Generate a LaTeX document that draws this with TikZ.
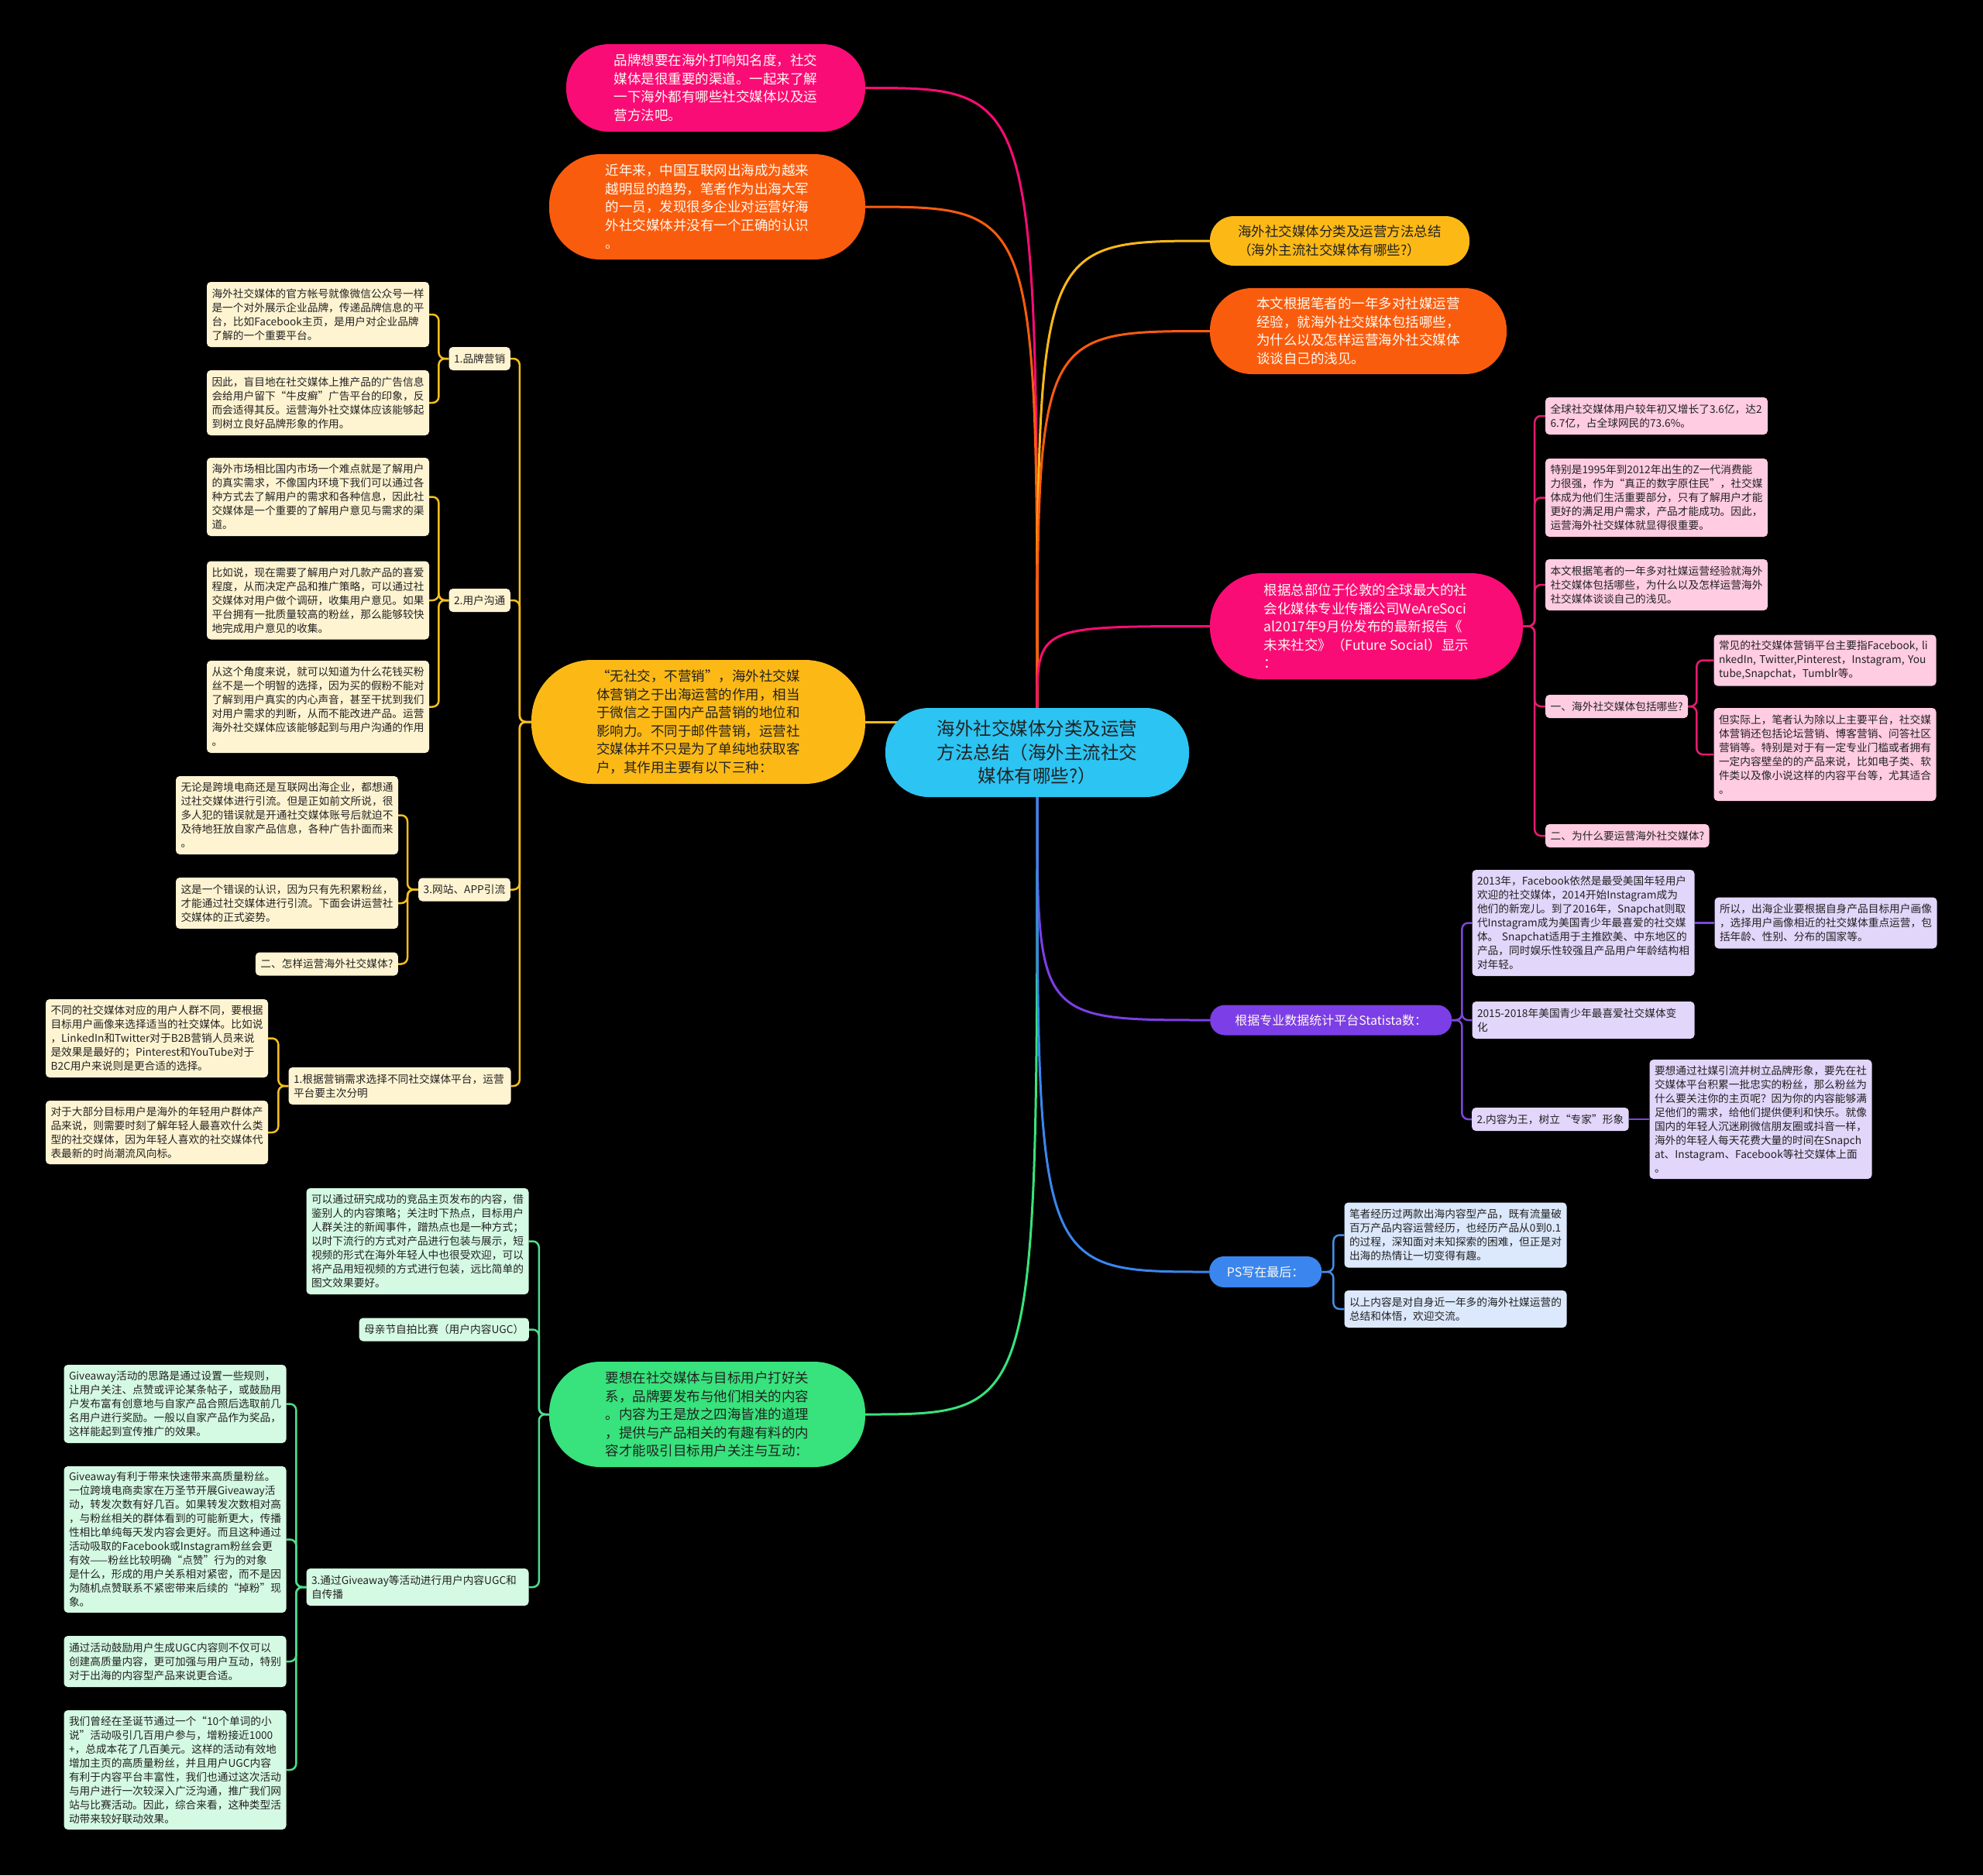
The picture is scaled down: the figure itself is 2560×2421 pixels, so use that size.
\documentclass[tikz,border=0pt]{standalone}
\usepackage{fontspec}
\setmainfont{Noto Sans CJK SC}
\usetikzlibrary{calc}
\hyphenpenalty=10000
\exhyphenpenalty=10000
\definecolor{cyanC}{RGB}{44,196,242}
\definecolor{pinkM}{RGB}{250,12,118}
\definecolor{orangeM}{RGB}{250,92,14}
\definecolor{yellowM}{RGB}{252,185,22}
\definecolor{greenM}{RGB}{56,226,124}
\definecolor{purpleM}{RGB}{124,62,230}
\definecolor{blueM}{RGB}{58,134,238}
\definecolor{creamL}{RGB}{255,244,210}
\definecolor{pinkL}{RGB}{255,204,226}
\definecolor{lavL}{RGB}{226,214,250}
\definecolor{blueL}{RGB}{220,232,252}
\definecolor{mintL}{RGB}{213,250,228}
\definecolor{goldLine}{RGB}{245,190,30}
\definecolor{pinkLine}{RGB}{228,28,110}
\definecolor{purpleLine}{RGB}{124,70,220}
\definecolor{blueLine}{RGB}{70,140,230}
\definecolor{greenLine}{RGB}{80,220,140}
\definecolor{txtdark}{RGB}{34,34,34}
\definecolor{txtlight}{RGB}{255,250,240}
\newcommand\fsleaf{\fontsize{13.7pt}{18pt}\selectfont}
\newcommand\fsbranch{\fontsize{17.5pt}{23.5pt}\selectfont}
\newcommand\fscenter{\fontsize{23.5pt}{30.5pt}\selectfont}
\newcommand\fssmall{\fontsize{16pt}{20pt}\selectfont}
\pgfdeclarelayer{canvas}
\pgfdeclarelayer{links}
\pgfsetlayers{canvas,links,main}
\begin{document}
\begin{tikzpicture}[x=1pt,y=-1pt,
  leaf/.style={rounded corners=5pt, inner xsep=6.5pt, inner ysep=0pt, text width=274pt, align=left, font=\fsleaf, text=txtdark},
  tag/.style={rounded corners=5pt, inner xsep=6.5pt, inner ysep=0pt, minimum height=30pt, font=\fsleaf, text=txtdark},
  branch/.style={inner sep=0pt, align=left, font=\fsbranch},
  trunk/.style={line width=3pt},
  twig/.style={line width=2.5pt, rounded corners=8pt}
]
\useasboundingbox (0,0) rectangle (2560,2421);
\begin{pgfonlayer}{canvas}
\fill[black] (0,0) rectangle (2560,2421);
\end{pgfonlayer}

% ---------- main nodes ----------
\node[inner sep=0pt, align=center, font=\fscenter, fill=cyanC, text=txtdark, minimum width=392pt, minimum height=115pt, rounded corners=56pt] (c) at (1339,971.5) {海外社交媒体分类及运营\\方法总结（海外主流社交\\媒体有哪些?）};

\node[branch, fill=pinkM, text=txtlight, minimum width=386pt, minimum height=113pt, rounded corners=55pt] (lp) at (924,113.5) {品牌想要在海外打响知名度，社交\\媒体是很重要的渠道。一起来了解\\一下海外都有哪些社交媒体以及运\\营方法吧。};
\node[branch, fill=orangeM, text=txtlight, minimum width=408pt, minimum height=136pt, rounded corners=66pt] (lo) at (913,267) {近年来，中国互联网出海成为越来\\越明显的趋势，笔者作为出海大军\\的一员，发现很多企业对运营好海\\外社交媒体并没有一个正确的认识\\。};
\node[branch, fill=yellowM, text=txtdark, minimum width=431pt, minimum height=160pt, rounded corners=78pt] (ly) at (901.5,932) {“无社交，不营销”，海外社交媒\\体营销之于出海运营的作用，相当\\于微信之于国内产品营销的地位和\\影响力。不同于邮件营销，运营社\\交媒体并不只是为了单纯地获取客\\户，其作用主要有以下三种：};
\node[branch, fill=greenM, text=txtdark, minimum width=408pt, minimum height=136pt, rounded corners=66pt] (lg) at (913,1826) {要想在社交媒体与目标用户打好关\\系，品牌要发布与他们相关的内容\\。内容为王是放之四海皆准的道理\\，提供与产品相关的有趣有料的内\\容才能吸引目标用户关注与互动：};

\node[branch, fill=yellowM, text=txtdark, minimum width=335pt, minimum height=64pt, rounded corners=31pt] (ry) at (1729.5,311) {海外社交媒体分类及运营方法总结\\（海外主流社交媒体有哪些?）};
\node[branch, fill=orangeM, text=txtlight, minimum width=383pt, minimum height=111pt, rounded corners=54pt] (ro) at (1753.5,427.5) {本文根据笔者的一年多对社媒运营\\经验，就海外社交媒体包括哪些，\\为什么以及怎样运营海外社交媒体\\谈谈自己的浅见。};
\node[branch, fill=pinkM, text=txtlight, minimum width=404pt, minimum height=137pt, rounded corners=67pt] (rp) at (1764,808.5) {根据总部位于伦敦的全球最大的社\\会化媒体专业传播公司WeAreSoci\\al2017年9月份发布的最新报告《\\未来社交》（Future Social）显示\\：};
\node[inner sep=0pt, font=\fssmall, fill=purpleM, text=txtlight, minimum width=312pt, minimum height=39pt, rounded corners=19pt, anchor=west] (ru) at (1562,1317) {根据专业数据统计平台Statista数：};
\node[inner sep=0pt, font=\fssmall, fill=blueM, text=txtlight, minimum width=145pt, minimum height=40pt, rounded corners=19pt, anchor=west] (rb) at (1561,1642) {PS写在最后：};

% ---------- yellow (left) branch ----------
\node[tag, fill=creamL, anchor=east] (y1) at (659,463) {1.品牌营销};
\node[leaf, fill=creamL, minimum height=84pt] (y1a) at (410.5,406) {海外社交媒体的官方帐号就像微信公众号一样\\是一个对外展示企业品牌，传递品牌信息的平\\台，比如Facebook主页，是用户对企业品牌\\了解的一个重要平台。};
\node[leaf, fill=creamL, minimum height=84pt] (y1b) at (410.5,520) {因此，盲目地在社交媒体上推产品的广告信息\\会给用户留下“牛皮癣”广告平台的印象，反\\而会适得其反。运营海外社交媒体应该能够起\\到树立良好品牌形象的作用。};
\node[tag, fill=creamL, anchor=east] (y2) at (659,775) {2.用户沟通};
\node[leaf, fill=creamL, minimum height=101pt] (y2a) at (410.5,641.5) {海外市场相比国内市场一个难点就是了解用户\\的真实需求，不像国内环境下我们可以通过各\\种方式去了解用户的需求和各种信息，因此社\\交媒体是一个重要的了解用户意见与需求的渠\\道。};
\node[leaf, fill=creamL, minimum height=101pt] (y2b) at (410.5,775) {比如说，现在需要了解用户对几款产品的喜爱\\程度，从而决定产品和推广策略，可以通过社\\交媒体对用户做个调研，收集用户意见。如果\\平台拥有一批质量较高的粉丝，那么能够较快\\地完成用户意见的收集。};
\node[leaf, fill=creamL, minimum height=119pt] (y2c) at (410.5,912.5) {从这个角度来说，就可以知道为什么花钱买粉\\丝不是一个明智的选择，因为买的假粉不能对\\了解到用户真实的内心声音，甚至干扰到我们\\对用户需求的判断，从而不能改进产品。运营\\海外社交媒体应该能够起到与用户沟通的作用\\。};
\node[tag, fill=creamL, anchor=east] (y3) at (659,1148.5) {3.网站、APP引流};
\node[leaf, fill=creamL, minimum height=101pt] (y3a) at (370.5,1052.5) {无论是跨境电商还是互联网出海企业，都想通\\过社交媒体进行引流。但是正如前文所说，很\\多人犯的错误就是开通社交媒体账号后就迫不\\及待地狂放自家产品信息，各种广告扑面而来\\。};
\node[leaf, fill=creamL, minimum height=66pt] (y3b) at (370.5,1166) {这是一个错误的认识，因为只有先积累粉丝，\\才能通过社交媒体进行引流。下面会讲运营社\\交媒体的正式姿势。};
\node[tag, fill=creamL, anchor=east] (y3c) at (514,1244.5) {二、怎样运营海外社交媒体?};
\node[leaf, fill=creamL, minimum height=48pt] (y4) at (516,1402) {1.根据营销需求选择不同社交媒体平台，运营\\平台要主次分明};
\node[leaf, fill=creamL, minimum height=101pt] (y4a) at (202.5,1340.5) {不同的社交媒体对应的用户人群不同，要根据\\目标用户画像来选择适当的社交媒体。比如说\\，LinkedIn和Twitter对于B2B营销人员来说\\是效果是最好的；Pinterest和YouTube对于\\B2C用户来说则是更合适的选择。};
\node[leaf, fill=creamL, minimum height=82pt] (y4b) at (202.5,1462) {对于大部分目标用户是海外的年轻用户群体产\\品来说，则需要时刻了解年轻人最喜欢什么类\\型的社交媒体，因为年轻人喜欢的社交媒体代\\表最新的时尚潮流风向标。};

% ---------- green branch ----------
\node[leaf, fill=mintL, minimum height=137pt] (g1) at (539,1602.5) {可以通过研究成功的竞品主页发布的内容，借\\鉴别人的内容策略；关注时下热点，目标用户\\人群关注的新闻事件，蹭热点也是一种方式；\\以时下流行的方式对产品进行包装与展示，短\\视频的形式在海外年轻人中也很受欢迎，可以\\将产品用短视频的方式进行包装，远比简单的\\图文效果要好。};
\node[tag, fill=mintL, anchor=east] (g2) at (683,1716.5) {母亲节自拍比赛（用户内容UGC）};
\node[leaf, fill=mintL, minimum height=48pt] (g3) at (539,2049) {3.通过Giveaway等活动进行用户内容UGC和\\自传播};
\node[leaf, fill=mintL, minimum height=101pt] (g3a) at (226,1812.5) {Giveaway活动的思路是通过设置一些规则，\\让用户关注、点赞或评论某条帖子，或鼓励用\\户发布富有创意地与自家产品合照后选取前几\\名用户进行奖励。一般以自家产品作为奖品，\\这样能起到宣传推广的效果。};
\node[leaf, fill=mintL, minimum height=189pt] (g3b) at (226,1987.5) {Giveaway有利于带来快速带来高质量粉丝。\\一位跨境电商卖家在万圣节开展Giveaway活\\动，转发次数有好几百。如果转发次数相对高\\，与粉丝相关的群体看到的可能新更大，传播\\性相比单纯每天发内容会更好。而且这种通过\\活动吸取的Facebook或Instagram粉丝会更\\有效——粉丝比较明确“点赞”行为的对象\\是什么，形成的用户关系相对紧密，而不是因\\为随机点赞联系不紧密带来后续的“掉粉”现\\象。};
\node[leaf, fill=mintL, minimum height=66pt] (g3c) at (226,2145) {通过活动鼓励用户生成UGC内容则不仅可以\\创建高质量内容，更可加强与用户互动，特别\\对于出海的内容型产品来说更合适。};
\node[leaf, fill=mintL, minimum height=154pt] (g3d) at (226,2285) {我们曾经在圣诞节通过一个“10个单词的小\\说”活动吸引几百用户参与，增粉接近1000\\+，总成本花了几百美元。这样的活动有效地\\增加主页的高质量粉丝，并且用户UGC内容\\有利于内容平台丰富性，我们也通过这次活动\\与用户进行一次较深入广泛沟通，推广我们网\\站与比赛活动。因此，综合来看，这种类型活\\动带来较好联动效果。};

% ---------- pink (right) branch ----------
\node[leaf, fill=pinkL, minimum height=48pt] (p1) at (2138.5,537) {全球社交媒体用户较年初又增长了3.6亿，达2\\6.7亿，占全球网民的73.6\%。};
\node[leaf, fill=pinkL, minimum height=101pt] (p2) at (2138.5,642.5) {特别是1995年到2012年出生的Z一代消费能\\力很强，作为“真正的数字原住民”，社交媒\\体成为他们生活重要部分，只有了解用户才能\\更好的满足用户需求，产品才能成功。因此，\\运营海外社交媒体就显得很重要。};
\node[leaf, fill=pinkL, minimum height=66pt] (p3) at (2138.5,755) {本文根据笔者的一年多对社媒运营经验就海外\\社交媒体包括哪些，为什么以及怎样运营海外\\社交媒体谈谈自己的浅见。};
\node[tag, fill=pinkL, anchor=west] (p4) at (1995,912) {一、海外社交媒体包括哪些?};
\node[tag, fill=pinkL, anchor=west] (p5) at (1995,1079) {二、为什么要运营海外社交媒体?};
\node[leaf, fill=pinkL, minimum height=66pt] (p4a) at (2356,852.5) {\mbox{常见的社交媒体营销平台主要指Facebook, li}\\\mbox{nkedIn, Twitter,Pinterest，Instagram, You}\\tube,Snapchat，Tumblr等。};
\node[leaf, fill=pinkL, minimum height=120pt] (p4b) at (2356,974) {但实际上，笔者认为除以上主要平台，社交媒\\体营销还包括论坛营销、博客营销、问答社区\\营销等。特别是对于有一定专业门槛或者拥有\\一定内容壁垒的的产品来说，比如电子类、软\\件类以及像小说这样的内容平台等，尤其适合\\。};

% ---------- purple branch ----------
\node[leaf, fill=lavL, minimum height=137pt] (u1) at (2044,1191.5) {2013年，Facebook依然是最受美国年轻用户\\欢迎的社交媒体，2014开始Instagram成为\\他们的新宠儿。到了2016年，Snapchat则取\\代Instagram成为美国青少年最喜爱的社交媒\\体。~Snapchat适用于主推欧美、中东地区的\\产品，同时娱乐性较强且产品用户年龄结构相\\对年轻。};
\node[leaf, fill=lavL, minimum height=66pt] (u1a) at (2357,1191.5) {所以，出海企业要根据自身产品目标用户画像\\，选择用户画像相近的社交媒体重点运营，包\\括年龄、性别、分布的国家等。};
\node[leaf, fill=lavL, minimum height=48pt] (u2) at (2044,1317) {2015-2018年美国青少年最喜爱社交媒体变\\化};
\node[tag, fill=lavL, anchor=west] (u3) at (1900,1445) {2.内容为王，树立“专家”形象};
\node[leaf, fill=lavL, minimum height=154pt] (u3a) at (2273,1445) {要想通过社媒引流并树立品牌形象，要先在社\\交媒体平台积累一批忠实的粉丝，那么粉丝为\\什么要关注你的主页呢？因为你的内容能够满\\足他们的需求，给他们提供便利和快乐。就像\\国内的年轻人沉迷刷微信朋友圈或抖音一样，\\海外的年轻人每天花费大量的时间在Snapch\\at、Instagram、Facebook等社交媒体上面\\。};

% ---------- blue branch ----------
\node[leaf, fill=blueL, minimum height=84pt] (b1) at (1879,1594.5) {笔者经历过两款出海内容型产品，既有流量破\\百万产品内容运营经历，也经历产品从0到0.1\\的过程，深知面对未知探索的困难，但正是对\\出海的热情让一切变得有趣。};
\node[leaf, fill=blueL, minimum height=48pt] (b2) at (1879,1690) {以上内容是对自身近一年多的海外社媒运营的\\总结和体悟，欢迎交流。};

% ---------- connectors ----------
\begin{pgfonlayer}{links}
\draw[trunk, pinkM] (c.north) .. controls (c.north |- lp.east) .. (lp.east);
\draw[trunk, orangeM] (c.north) .. controls (c.north |- lo.east) .. (lo.east);
\draw[trunk, yellowM] (ly.east) -- (c.center |- ly.east);
\draw[trunk, greenM] (c.south) .. controls (c.south |- lg.east) .. (lg.east);
\draw[trunk, yellowM] (c.north) .. controls (c.north |- ry.west) .. (ry.west);
\draw[trunk, orangeM] (c.north) .. controls (c.north |- ro.west) .. (ro.west);
\draw[trunk, pinkM] (c.north) .. controls (c.north |- rp.west) .. (rp.west);
\draw[trunk, purpleM] (c.south) .. controls (c.south |- ru.west) .. (ru.west);
\draw[trunk, blueM] (c.south) .. controls (c.south |- rb.west) .. (rb.west);

\foreach \t in {y1,y2,y3,y4} \draw[twig, goldLine] (ly.west) -- ++(-15,0) |- (\t.east);
\foreach \t in {y1a,y1b} \draw[twig, goldLine] (y1.west) -- ++(-13,0) |- (\t.east);
\foreach \t in {y2a,y2b,y2c} \draw[twig, goldLine] (y2.west) -- ++(-13,0) |- (\t.east);
\foreach \t in {y3a,y3b,y3c} \draw[twig, goldLine] (y3.west) -- ++(-14,0) |- (\t.east);
\foreach \t in {y4a,y4b} \draw[twig, goldLine] (y4.west) -- ++(-13,0) |- (\t.east);

\foreach \t in {g1,g2,g3} \draw[twig, greenLine] (lg.west) -- ++(-13,0) |- (\t.east);
\foreach \t in {g3a,g3b,g3c,g3d} \draw[twig, greenLine] (g3.west) -- ++(-13,0) |- (\t.east);

\foreach \t in {p1,p2,p3,p4,p5} \draw[twig, pinkLine] (rp.east) -- ++(15,0) |- (\t.west);
\foreach \t in {p4a,p4b} \draw[twig, pinkLine] (p4.east) -- ++(11,0) |- (\t.west);

\foreach \t in {u1,u2,u3} \draw[twig, purpleLine] (ru.east) -- ++(13,0) |- (\t.west);
\draw[twig, purpleLine] (u1.east) -- (u1a.west);
\draw[twig, purpleLine] (u3.east) -- (u3a.west);

\foreach \t in {b1,b2} \draw[twig, blueLine] (rb.east) -- ++(15,0) |- (\t.west);
\end{pgfonlayer}
\end{tikzpicture}
\end{document}
